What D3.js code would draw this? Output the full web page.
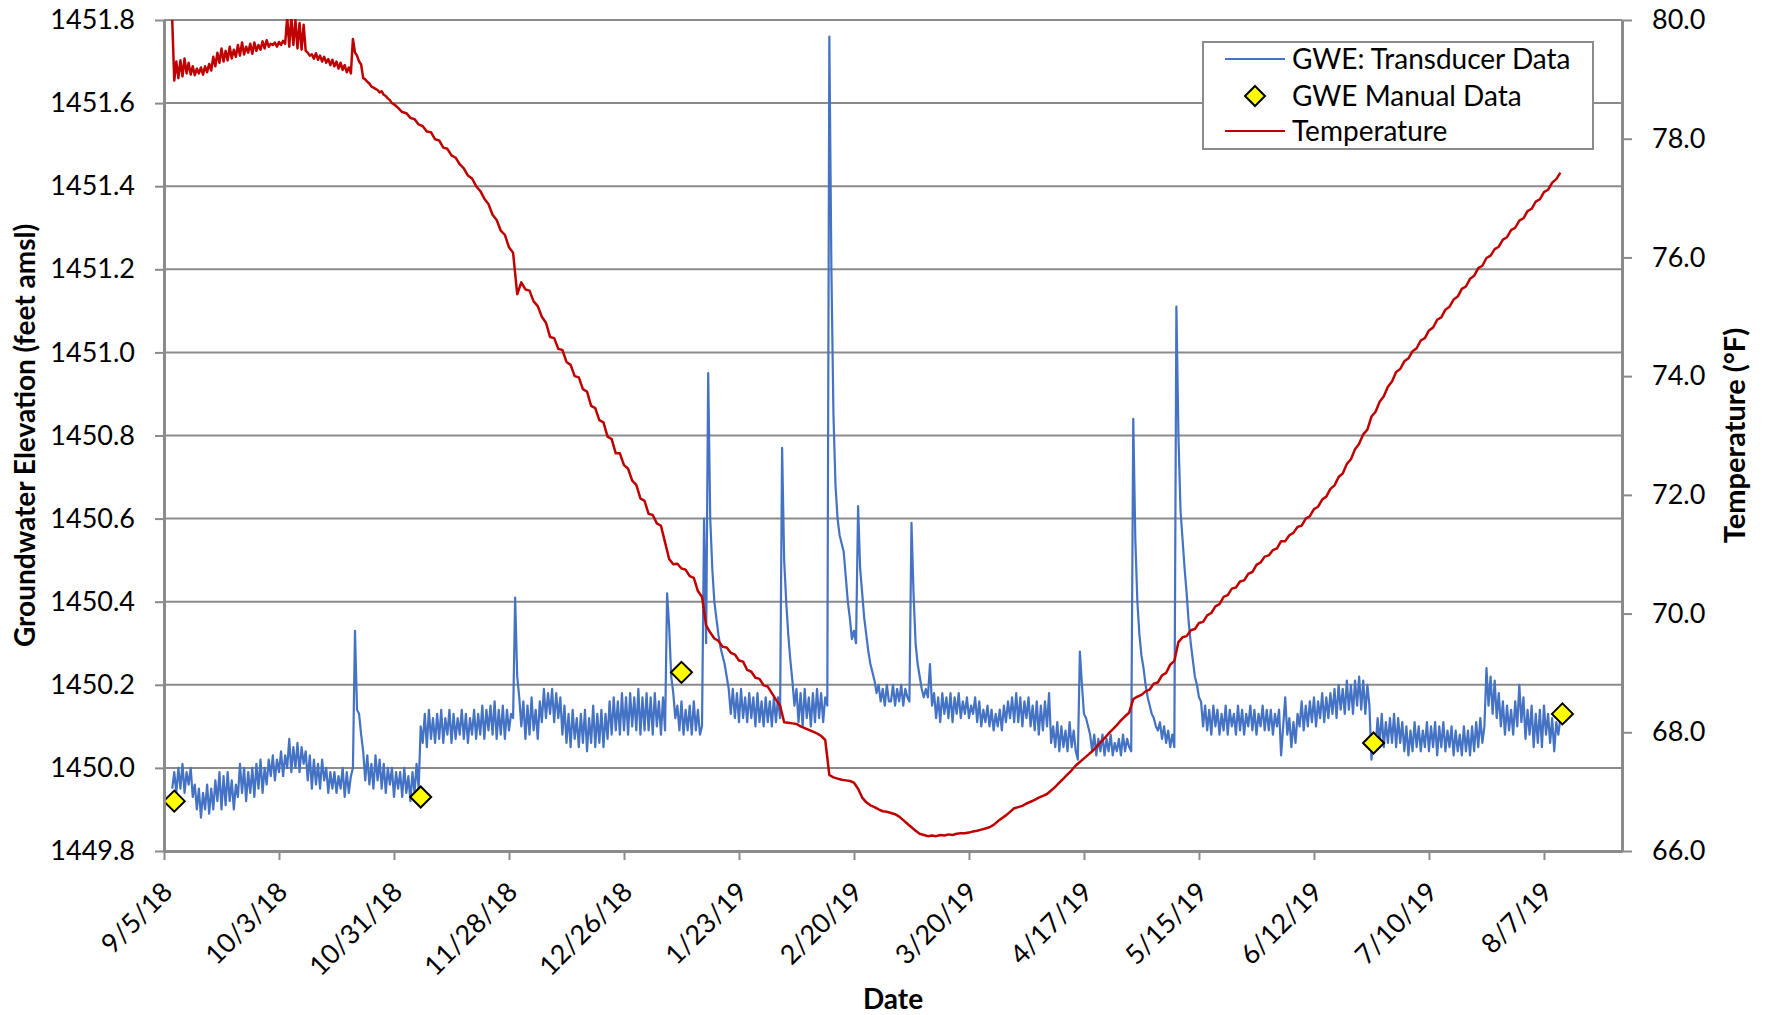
<!DOCTYPE html>
<html>
<head>
<meta charset="utf-8">
<script src="https://cdn.jsdelivr.net/npm/d3@7"></script>
<style>
  body { margin: 0; background: #fff; }
  svg text { font-family: Lato, "Open Sans", sans-serif; fill: #000; }
</style>
</head>
<body>
<svg id="chart" width="1767" height="1015"></svg>
<script>
// ---- data ----
// transducer groundwater elevation, one value every 12 h, starting at each month's first reading
const gweSep18 = [
  1449.95, 1449.99, 1449.94, 1450.00, 1449.95, 1450.01, 1449.94, 1449.99, 1449.96, 1450.00,
  1449.93, 1449.96, 1449.90, 1449.95, 1449.88, 1449.94, 1449.90, 1449.96, 1449.89, 1449.95,
  1449.90, 1449.97, 1449.92, 1449.99, 1449.90, 1449.98, 1449.91, 1449.99, 1449.92, 1449.97,
  1449.90, 1449.96, 1449.93, 1450.01, 1449.94, 1450.00, 1449.92, 1449.99, 1449.94, 1450.00,
  1449.93, 1450.01, 1449.95, 1450.02, 1449.94, 1450.00, 1449.96, 1450.02
];
const gweOct18 = [
  1449.98, 1450.03, 1449.97, 1450.02, 1449.99, 1450.04, 1449.98, 1450.03, 1450.00, 1450.07,
  1449.99, 1450.05, 1450.00, 1450.06, 1449.99, 1450.05, 1450.01, 1450.04, 1449.97, 1450.03,
  1449.95, 1450.02, 1449.96, 1450.01, 1449.95, 1450.02, 1449.97, 1450.00, 1449.94, 1449.99,
  1449.95, 1449.99, 1449.94, 1449.98, 1449.95, 1450.00, 1449.93, 1449.99, 1449.94, 1449.98,
  1450.00, 1450.33, 1450.14, 1450.13, 1450.08, 1450.04, 1449.97, 1450.03, 1449.96, 1450.01,
  1449.95, 1450.03, 1449.97, 1450.02, 1449.95, 1450.01, 1449.94, 1450.00, 1449.96, 1450.00,
  1449.93, 1449.99
];
const gweNov18 = [
  1449.95, 1449.99, 1449.93, 1450.00, 1449.94, 1449.98, 1449.92, 1449.99, 1449.94, 1450.01,
  1449.95, 1450.10, 1450.06, 1450.13, 1450.05, 1450.14, 1450.07, 1450.12, 1450.06, 1450.13,
  1450.07, 1450.14, 1450.06, 1450.12, 1450.08, 1450.14, 1450.06, 1450.13, 1450.07, 1450.12,
  1450.08, 1450.14, 1450.07, 1450.13, 1450.06, 1450.12, 1450.08, 1450.14, 1450.07, 1450.13,
  1450.08, 1450.15, 1450.07, 1450.14, 1450.09, 1450.15, 1450.08, 1450.16, 1450.07, 1450.14,
  1450.08, 1450.15, 1450.07, 1450.14, 1450.09, 1450.13, 1450.12, 1450.41, 1450.22, 1450.17
];
const gweDec18 = [
  1450.10, 1450.16, 1450.07, 1450.15, 1450.08, 1450.17, 1450.09, 1450.14, 1450.07, 1450.16,
  1450.11, 1450.19, 1450.12, 1450.18, 1450.13, 1450.19, 1450.11, 1450.18, 1450.12, 1450.17,
  1450.08, 1450.15, 1450.06, 1450.13, 1450.05, 1450.14, 1450.07, 1450.12, 1450.05, 1450.13,
  1450.06, 1450.14, 1450.04, 1450.12, 1450.06, 1450.15, 1450.05, 1450.13, 1450.06, 1450.14,
  1450.05, 1450.13, 1450.07, 1450.16, 1450.08, 1450.17, 1450.09, 1450.16, 1450.08, 1450.18,
  1450.09, 1450.17, 1450.08, 1450.18, 1450.10, 1450.17, 1450.09, 1450.19, 1450.08, 1450.17,
  1450.09, 1450.18
];
const gweJan19 = [
  1450.09, 1450.17, 1450.08, 1450.18, 1450.10, 1450.16, 1450.08, 1450.17, 1450.09, 1450.42,
  1450.34, 1450.22, 1450.18, 1450.12, 1450.15, 1450.09, 1450.16, 1450.08, 1450.14, 1450.09,
  1450.15, 1450.08, 1450.16, 1450.09, 1450.14, 1450.08, 1450.10, 1450.60, 1450.30, 1450.95,
  1450.60, 1450.48, 1450.40, 1450.36, 1450.32, 1450.29, 1450.27, 1450.25, 1450.22, 1450.19,
  1450.13, 1450.19, 1450.12, 1450.18, 1450.11, 1450.19, 1450.12, 1450.17, 1450.11, 1450.18,
  1450.12, 1450.17, 1450.10, 1450.18, 1450.11, 1450.16, 1450.10, 1450.17, 1450.11, 1450.16,
  1450.10, 1450.17
];
const gweFeb19 = [
  1450.11, 1450.17, 1450.12, 1450.77, 1450.50, 1450.40, 1450.32, 1450.26, 1450.21, 1450.15,
  1450.19, 1450.11, 1450.18, 1450.10, 1450.19, 1450.12, 1450.17, 1450.10, 1450.18, 1450.11,
  1450.19, 1450.12, 1450.18, 1450.11, 1450.17, 1450.15, 1451.76, 1451.20, 1450.85, 1450.68,
  1450.60, 1450.56, 1450.54, 1450.52, 1450.46, 1450.40, 1450.36, 1450.31, 1450.33, 1450.30,
  1450.63, 1450.48, 1450.42, 1450.36, 1450.32, 1450.28, 1450.25, 1450.23, 1450.21, 1450.18,
  1450.20, 1450.16, 1450.19, 1450.15, 1450.20, 1450.16
];
const gweMar19 = [
  1450.16, 1450.20, 1450.15, 1450.19, 1450.16, 1450.20, 1450.15, 1450.19, 1450.17, 1450.16,
  1450.59, 1450.42, 1450.30, 1450.25, 1450.22, 1450.19, 1450.17, 1450.19, 1450.17, 1450.25,
  1450.15, 1450.18, 1450.12, 1450.17, 1450.11, 1450.18, 1450.13, 1450.17, 1450.12, 1450.18,
  1450.11, 1450.17, 1450.13, 1450.18, 1450.12, 1450.16, 1450.13, 1450.17, 1450.12, 1450.15,
  1450.13, 1450.17, 1450.11, 1450.16, 1450.10, 1450.14, 1450.11, 1450.15, 1450.10, 1450.14,
  1450.09, 1450.13, 1450.10, 1450.14, 1450.09, 1450.15, 1450.11, 1450.16, 1450.12, 1450.17,
  1450.11, 1450.18
];
const gweApr19 = [
  1450.11, 1450.17, 1450.10, 1450.16, 1450.12, 1450.17, 1450.10, 1450.15, 1450.09, 1450.16,
  1450.08, 1450.15, 1450.09, 1450.16, 1450.10, 1450.18, 1450.06, 1450.10, 1450.05, 1450.11,
  1450.04, 1450.10, 1450.05, 1450.09, 1450.04, 1450.11, 1450.05, 1450.09, 1450.04, 1450.02,
  1450.28, 1450.20, 1450.13, 1450.12, 1450.10, 1450.08, 1450.04, 1450.08, 1450.03, 1450.07,
  1450.04, 1450.08, 1450.03, 1450.07, 1450.04, 1450.08, 1450.03, 1450.06, 1450.04, 1450.07,
  1450.03, 1450.08, 1450.04, 1450.07, 1450.05, 1450.04, 1450.84, 1450.55, 1450.40, 1450.32
];
const gweMay19 = [
  1450.27, 1450.24, 1450.20, 1450.17, 1450.15, 1450.13, 1450.12, 1450.10, 1450.09, 1450.11,
  1450.07, 1450.10, 1450.06, 1450.09, 1450.05, 1450.08, 1450.05, 1451.11, 1450.80, 1450.62,
  1450.55, 1450.48, 1450.42, 1450.35, 1450.30, 1450.26, 1450.22, 1450.20, 1450.17, 1450.16,
  1450.10, 1450.15, 1450.09, 1450.14, 1450.08, 1450.15, 1450.10, 1450.14, 1450.08, 1450.13,
  1450.09, 1450.15, 1450.08, 1450.14, 1450.10, 1450.13, 1450.08, 1450.15, 1450.09, 1450.14,
  1450.08, 1450.13, 1450.10, 1450.15, 1450.09, 1450.14, 1450.08, 1450.13, 1450.10, 1450.15,
  1450.09, 1450.14
];
const gweJun19 = [
  1450.09, 1450.14, 1450.08, 1450.13, 1450.10, 1450.14, 1450.03, 1450.10, 1450.17, 1450.08,
  1450.12, 1450.05, 1450.11, 1450.06, 1450.13, 1450.10, 1450.16, 1450.09, 1450.15, 1450.10,
  1450.16, 1450.11, 1450.17, 1450.10, 1450.16, 1450.12, 1450.18, 1450.11, 1450.17, 1450.12,
  1450.18, 1450.13, 1450.19, 1450.12, 1450.20, 1450.14, 1450.19, 1450.13, 1450.21, 1450.14,
  1450.20, 1450.13, 1450.21, 1450.15, 1450.22, 1450.14, 1450.21, 1450.13, 1450.20, 1450.15,
  1450.02, 1450.08, 1450.05, 1450.12, 1450.06, 1450.13, 1450.05, 1450.11, 1450.06, 1450.12
];
const gweJul19 = [
  1450.06, 1450.13, 1450.05, 1450.12, 1450.06, 1450.11, 1450.04, 1450.10, 1450.03, 1450.09,
  1450.04, 1450.11, 1450.05, 1450.10, 1450.04, 1450.09, 1450.05, 1450.11, 1450.04, 1450.10,
  1450.05, 1450.11, 1450.03, 1450.10, 1450.05, 1450.11, 1450.04, 1450.09, 1450.05, 1450.10,
  1450.03, 1450.09, 1450.04, 1450.08, 1450.03, 1450.10, 1450.04, 1450.09, 1450.03, 1450.10,
  1450.04, 1450.11, 1450.05, 1450.12, 1450.06, 1450.10, 1450.24, 1450.15, 1450.22, 1450.13,
  1450.21, 1450.12, 1450.18, 1450.10, 1450.16, 1450.08, 1450.15, 1450.09, 1450.14, 1450.08,
  1450.16, 1450.10
];
const gweAug19 = [
  1450.20, 1450.11, 1450.17, 1450.07, 1450.14, 1450.08, 1450.15, 1450.05, 1450.13, 1450.06,
  1450.14, 1450.05, 1450.15, 1450.08, 1450.13, 1450.06, 1450.12, 1450.04, 1450.11, 1450.08,
  1450.12
];

// manual water-level readings
const manualDates = ["2018-09-07 12:00", "2018-11-06 12:00", "2019-01-09 00:00", "2019-06-26 12:00", "2019-08-11 12:00"];
const manualValues = [1449.92, 1449.93, 1450.23, 1450.06, 1450.13];

// temperature: every 12 h for Sep-Oct, then daily
const tempSepOct18 = [
  80.00, 78.98, 79.30, 79.02, 79.32, 79.05, 79.35, 79.10, 79.28, 79.08,
  79.22, 79.07, 79.18, 79.10, 79.20, 79.08, 79.22, 79.12, 79.26, 79.15,
  79.38, 79.22, 79.45, 79.28, 79.52, 79.30, 79.48, 79.32, 79.55, 79.35,
  79.50, 79.38, 79.58, 79.40, 79.62, 79.42, 79.55, 79.45, 79.60, 79.43,
  79.62, 79.48, 79.58, 79.50, 79.64, 79.52, 79.66, 79.55,
  79.60, 79.58, 79.62, 79.55, 79.63, 79.58, 79.65, 79.60, 80.05, 79.55,
  80.05, 79.58, 80.00, 79.52, 79.95, 79.50, 79.92, 79.48, 79.45, 79.40,
  79.42, 79.35, 79.44, 79.33, 79.40, 79.30, 79.38, 79.28, 79.34, 79.24,
  79.33, 79.22, 79.30, 79.18, 79.28, 79.16, 79.24, 79.12, 79.20, 79.10,
  79.68, 79.45, 79.40, 79.30, 79.25, 79.02, 79.00, 78.96, 78.93, 78.88,
  78.86, 78.84, 78.82, 78.78, 78.80, 78.74, 78.72, 78.68, 78.65, 78.60,
  78.58, 78.55
];
const tempNov18 = [
  78.52, 78.45, 78.43, 78.35, 78.33, 78.24, 78.21, 78.12, 78.11, 77.99,
  77.97, 77.85, 77.83, 77.72, 77.68, 77.57, 77.50, 77.38, 77.33, 77.20,
  77.12, 76.99, 76.90, 76.72, 76.63, 76.45, 76.38, 76.17, 76.08, 75.38
];
const tempDec18 = [
  75.58, 75.46, 75.44, 75.26, 75.18, 75.00, 74.90, 74.66, 74.64, 74.46,
  74.44, 74.24, 74.19, 74.00, 73.98, 73.78, 73.74, 73.50, 73.46, 73.26,
  73.22, 72.98, 72.94, 72.70, 72.70, 72.50, 72.44, 72.24, 72.17, 71.94, 71.90
];
const tempJan19 = [
  71.68, 71.66, 71.52, 71.48, 71.20, 70.92, 70.83, 70.84, 70.76, 70.74,
  70.63, 70.60, 70.38, 70.28, 69.80, 69.68, 69.58, 69.54, 69.44, 69.43,
  69.34, 69.31, 69.21, 69.19, 69.05, 69.02, 68.92, 68.90, 68.79, 68.77, 68.66
];
const tempFeb19 = [
  68.55, 68.45, 68.17, 68.16, 68.15, 68.14, 68.10, 68.07, 68.04, 68.01,
  67.98, 67.94, 67.87, 67.28, 67.24, 67.22, 67.20, 67.19, 67.18, 67.15,
  67.05, 66.90, 66.82, 66.77, 66.74, 66.70, 66.67, 66.66
];
const tempMar19 = [
  66.64, 66.62, 66.58, 66.52, 66.46, 66.40, 66.34, 66.29, 66.27, 66.25,
  66.26, 66.25, 66.27, 66.26, 66.28, 66.27, 66.29, 66.30, 66.30, 66.31,
  66.33, 66.34, 66.36, 66.38, 66.40, 66.44, 66.50, 66.55, 66.60, 66.66, 66.72
];
const tempApr19 = [
  66.74, 66.76, 66.80, 66.83, 66.86, 66.90, 66.93, 66.96, 67.02, 67.08,
  67.15, 67.22, 67.29, 67.36, 67.44, 67.50, 67.56, 67.62, 67.68, 67.75,
  67.83, 67.90, 67.98, 68.05, 68.12, 68.20, 68.27, 68.33, 68.56, 68.60
];
const tempMay19 = [
  68.63, 68.69, 68.72, 68.82, 68.84, 68.96, 69.00, 69.14, 69.20, 69.52,
  69.60, 69.62, 69.72, 69.74, 69.84, 69.86, 69.97, 70.01, 70.12, 70.16,
  70.28, 70.31, 70.42, 70.44, 70.54, 70.56, 70.67, 70.70, 70.82, 70.86, 70.96
];
const tempJun19 = [
  70.98, 71.07, 71.10, 71.22, 71.22, 71.32, 71.36, 71.46, 71.48, 71.60,
  71.64, 71.76, 71.80, 71.92, 71.97, 72.10, 72.16, 72.30, 72.36, 72.52,
  72.60, 72.77, 72.86, 73.02, 73.10, 73.32, 73.40, 73.57, 73.66, 73.82
];
const tempJul19 = [
  73.91, 74.07, 74.12, 74.25, 74.30, 74.42, 74.47, 74.60, 74.64, 74.77,
  74.82, 74.95, 74.99, 75.12, 75.17, 75.29, 75.34, 75.47, 75.51, 75.64,
  75.69, 75.82, 75.86, 75.99, 76.03, 76.14, 76.18, 76.30, 76.34, 76.46, 76.50
];
const tempAug19 = [
  76.62, 76.66, 76.78, 76.82, 76.94, 76.98, 77.10, 77.14, 77.26, 77.32, 77.43
];

// axes
const xTickDates = ["2018-09-05", "2018-10-03", "2018-10-31", "2018-11-28", "2018-12-26",
  "2019-01-23", "2019-02-20", "2019-03-20", "2019-04-17", "2019-05-15",
  "2019-06-12", "2019-07-10", "2019-08-07"];
const xDomain = ["2018-09-05", "2019-08-26"];
const gweTicks = [1449.8, 1450.0, 1450.2, 1450.4, 1450.6, 1450.8, 1451.0, 1451.2, 1451.4, 1451.6, 1451.8];
const tempTicks = [66, 68, 70, 72, 74, 76, 78, 80];

const legendItems = ["GWE: Transducer Data", "GWE Manual Data", "Temperature"];

// ---- build series ----
const parse = d3.utcParse("%Y-%m-%d");
const parseTime = d3.utcParse("%Y-%m-%d %H:%M");
function series(start, stepHours, values) {
  const t0 = parse(start);
  return values.map((v, i) => ({ date: d3.utcHour.offset(t0, i * stepHours), value: v }));
}

const gwe = [].concat(
  series("2018-09-07", 12, gweSep18),
  series("2018-10-01", 12, gweOct18),
  series("2018-11-01", 12, gweNov18),
  series("2018-12-01", 12, gweDec18),
  series("2019-01-01", 12, gweJan19),
  series("2019-02-01", 12, gweFeb19),
  series("2019-03-01", 12, gweMar19),
  series("2019-04-01", 12, gweApr19),
  series("2019-05-01", 12, gweMay19),
  series("2019-06-01", 12, gweJun19),
  series("2019-07-01", 12, gweJul19),
  series("2019-08-01", 12, gweAug19)
);

const temp = [].concat(
  series("2018-09-07", 12, tempSepOct18),
  series("2018-11-01", 24, tempNov18),
  series("2018-12-01", 24, tempDec18),
  series("2019-01-01", 24, tempJan19),
  series("2019-02-01", 24, tempFeb19),
  series("2019-03-01", 24, tempMar19),
  series("2019-04-01", 24, tempApr19),
  series("2019-05-01", 24, tempMay19),
  series("2019-06-01", 24, tempJun19),
  series("2019-07-01", 24, tempJul19),
  series("2019-08-01", 24, tempAug19)
);

const manual = manualDates.map((d, i) => ({ date: parseTime(d), value: manualValues[i] }));

// ---- layout ----
const plot = { left: 164, right: 1622, top: 20, bottom: 851 };
const gridColor = "#8b8b8b";
const blue = "#4472C4";
const red = "#C00000";

const svg = d3.select("#chart");

const x = d3.scaleUtc()
  .domain(xDomain.map(parse))
  .range([plot.left, plot.right]);
const yL = d3.scaleLinear().domain([1449.8, 1451.8]).range([plot.bottom, plot.top]);
const yR = d3.scaleLinear().domain([66, 80]).range([plot.bottom, plot.top]);

svg.append("defs").append("clipPath").attr("id", "plotClip")
  .append("rect")
    .attr("x", plot.left).attr("y", plot.top - 1)
    .attr("width", plot.right - plot.left).attr("height", plot.bottom - plot.top + 1);

// gridlines
svg.append("g")
  .selectAll("line")
  .data(gweTicks)
  .enter().append("line")
    .attr("x1", plot.left).attr("x2", plot.right)
    .attr("y1", d => yL(d)).attr("y2", d => yL(d))
    .attr("stroke", gridColor)
    .attr("stroke-width", 2);

const lines = svg.append("g").attr("clip-path", "url(#plotClip)");

lines.append("path")
  .datum(gwe)
  .attr("fill", "none")
  .attr("stroke", blue)
  .attr("stroke-width", 2.2)
  .attr("stroke-linejoin", "round")
  .attr("d", d3.line().x(d => x(d.date)).y(d => yL(d.value)));

const diamond = r => `M0,${-r}L${r},0L0,${r}L${-r},0Z`;

lines.selectAll("path.manual")
  .data(manual)
  .enter().append("path")
    .attr("class", "manual")
    .attr("d", diamond(10.5))
    .attr("transform", d => `translate(${x(d.date)},${yL(d.value)})`)
    .attr("fill", "#FFFF00")
    .attr("stroke", "#000")
    .attr("stroke-width", 2);

lines.append("path")
  .datum(temp)
  .attr("fill", "none")
  .attr("stroke", red)
  .attr("stroke-width", 2.5)
  .attr("stroke-linejoin", "round")
  .attr("d", d3.line().x(d => x(d.date)).y(d => yR(d.value)));

// axes
function styleAxis(g) {
  g.selectAll("path.domain").attr("stroke", gridColor).attr("stroke-width", 3);
  g.selectAll(".tick line").attr("stroke", gridColor).attr("stroke-width", 2);
  g.selectAll("text").attr("font-size", 27).attr("fill", "#000");
}

svg.append("g")
  .attr("transform", `translate(${plot.left},0)`)
  .call(d3.axisLeft(yL).tickValues(gweTicks).tickFormat(d3.format(".1f"))
    .tickSize(9).tickSizeOuter(0).tickPadding(20))
  .call(styleAxis)
  .attr("font-family", null);

svg.append("g")
  .attr("transform", `translate(${plot.right},0)`)
  .call(d3.axisRight(yR).tickValues(tempTicks).tickFormat(d3.format(".1f"))
    .tickSize(10).tickSizeOuter(0).tickPadding(20))
  .call(styleAxis)
  .attr("font-family", null);

const fmtDate = d3.utcFormat("%-m/%-d/%y");
const xAxis = svg.append("g")
  .attr("transform", `translate(0,${plot.bottom})`)
  .call(d3.axisBottom(x).tickValues(xTickDates.map(parse)).tickFormat(fmtDate)
    .tickSize(9).tickSizeOuter(0))
  .call(styleAxis)
  .attr("font-family", null);

xAxis.selectAll(".tick text")
  .attr("x", 0).attr("y", 0).attr("dy", "0.35em")
  .attr("text-anchor", "end")
  .attr("transform", "translate(3,36) rotate(-45)");

// axis titles
svg.append("text")
  .attr("transform", `translate(35,${(plot.top + plot.bottom) / 2}) rotate(-90)`)
  .attr("text-anchor", "middle")
  .attr("font-size", 28).attr("font-weight", "bold")
  .text("Groundwater Elevation (feet amsl)");

svg.append("text")
  .attr("transform", `translate(1745,${(plot.top + plot.bottom) / 2}) rotate(-90)`)
  .attr("text-anchor", "middle")
  .attr("font-size", 29).attr("font-weight", "bold")
  .text("Temperature (°F)");

svg.append("text")
  .attr("x", (plot.left + plot.right) / 2).attr("y", 1009)
  .attr("text-anchor", "middle")
  .attr("font-size", 28).attr("font-weight", "bold")
  .text("Date");

// legend
const legend = svg.append("g").attr("transform", "translate(1203,42)");
legend.append("rect")
  .attr("width", 390).attr("height", 107)
  .attr("fill", "#fff")
  .attr("stroke", gridColor).attr("stroke-width", 2);

const rowY = [17, 54, 89];
legendItems.forEach((label, i) => {
  const row = legend.append("g").attr("transform", `translate(0,${rowY[i]})`);
  if (i === 1) {
    row.append("path")
      .attr("d", diamond(10))
      .attr("transform", "translate(52,0)")
      .attr("fill", "#FFFF00").attr("stroke", "#000").attr("stroke-width", 2);
  } else {
    row.append("line")
      .attr("x1", 22).attr("x2", 82)
      .attr("stroke", i === 0 ? blue : red)
      .attr("stroke-width", 2);
  }
  row.append("text")
    .attr("x", 89).attr("dy", "0.35em")
    .attr("font-size", 28)
    .text(label);
});
</script>
</body>
</html>
